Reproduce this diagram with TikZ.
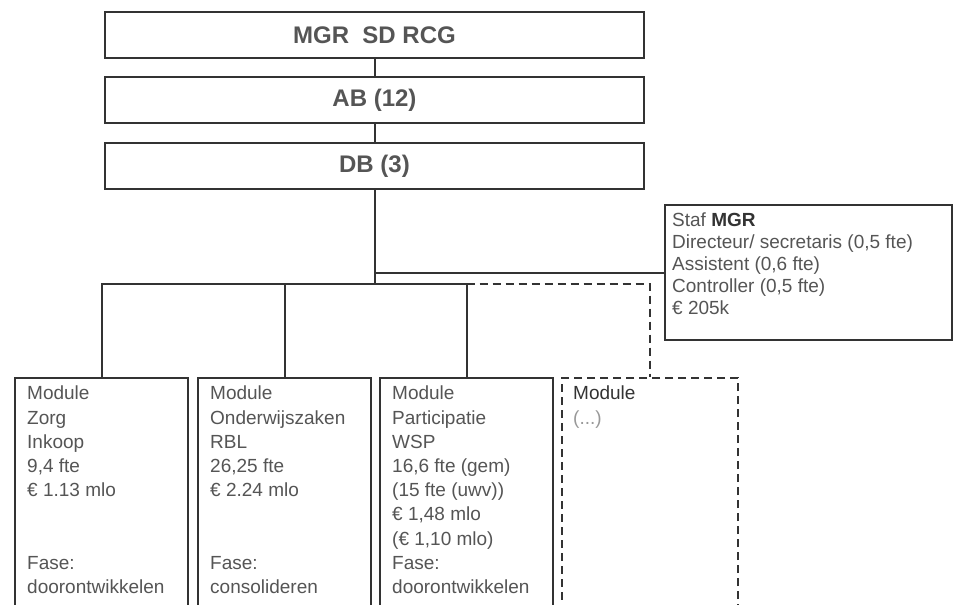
\documentclass[tikz,border=0pt]{standalone}
\usepackage{fontspec}
\setmainfont{Liberation Sans}
\definecolor{txt}{HTML}{555555}
\definecolor{ln}{HTML}{333333}
\begin{document}
\begin{tikzpicture}[x=1pt,y=-1pt,
  box/.style={draw=ln,line width=2pt,rectangle,inner sep=0pt},
  topbox/.style={box,minimum width=539pt,minimum height=46pt,font=\fontsize{24}{28}\selectfont\bfseries,text=txt},
  modbox/.style={box,minimum width=173pt,minimum height=240pt,anchor=north west},
  modtxt/.style={anchor=north west,align=left,inner sep=0pt,text=txt,font=\fontsize{19}{24.2}\selectfont},
  conn/.style={draw=ln,line width=2pt},
  dconn/.style={conn,dash pattern=on 8pt off 5pt}]
\useasboundingbox (0,0) rectangle (954,605);
\clip (0,0) rectangle (954,605);
\fill[white] (0,0) rectangle (954,605);
% top boxes
\node[topbox] (mgr) at (374.5,35) {MGR\ \ SD RCG};
\node[topbox] (ab) at (374.5,100) {AB (12)};
\node[topbox] (db) at (374.5,166) {DB (3)};
\draw[conn] (mgr) -- (ab);
\draw[conn] (ab) -- (db);
% staf
\node[box,minimum width=287pt,minimum height=135pt,anchor=north west] (staf) at (664,204) {};
\node[modtxt,font=\fontsize{19}{22}\selectfont] (staft) at (672,213) {Staf \textcolor{ln}{\bfseries MGR}\\Directeur/ secretaris (0,5 fte)\\Assistent (0,6 fte)\\Controller (0,5 fte)\\€ 205k};
% modules
\node[modbox] (m1) at (14,377) {};
\node[modbox] (m2) at (197,377) {};
\node[modbox] (m3) at (379,377) {};
\node[modbox,dash pattern=on 8pt off 5pt,minimum width=176pt] (m4) at (561,377) {};
\node[modtxt] (m1t) at (27,386) {Module\\Zorg\\Inkoop\\9,4 fte\\€ 1.13 mlo\\[24.2pt] \\Fase:\\doorontwikkelen};
\node[modtxt] (m2t) at (210,386) {Module\\Onderwijszaken\\RBL\\26,25 fte\\€ 2.24 mlo\\[24.2pt] \\Fase:\\consolideren};
\node[modtxt] (m3t) at (392,386) {Module\\Participatie\\WSP\\16,6 fte (gem)\\(15 fte (uwv))\\€ 1,48 mlo\\(€ 1,10 mlo)\\Fase:\\doorontwikkelen};
\node[modtxt] (m4t) at (573,386) {\textcolor{ln}{Module}\\\textcolor{txt!60}{(...)}};
% connectors
\coordinate (j) at (374.5,284);
\draw[conn] (db) -- (j);
\draw[conn] (db.south |- staf.west) -- (staf.west);
\draw[conn] (m1.north) |- (j) -| (m3.north);
\draw[conn] (m2.north) -- (m2.north |- j);
\draw[dconn] (m3.north |- j) -| (m4.north);
\end{tikzpicture}
\end{document}
